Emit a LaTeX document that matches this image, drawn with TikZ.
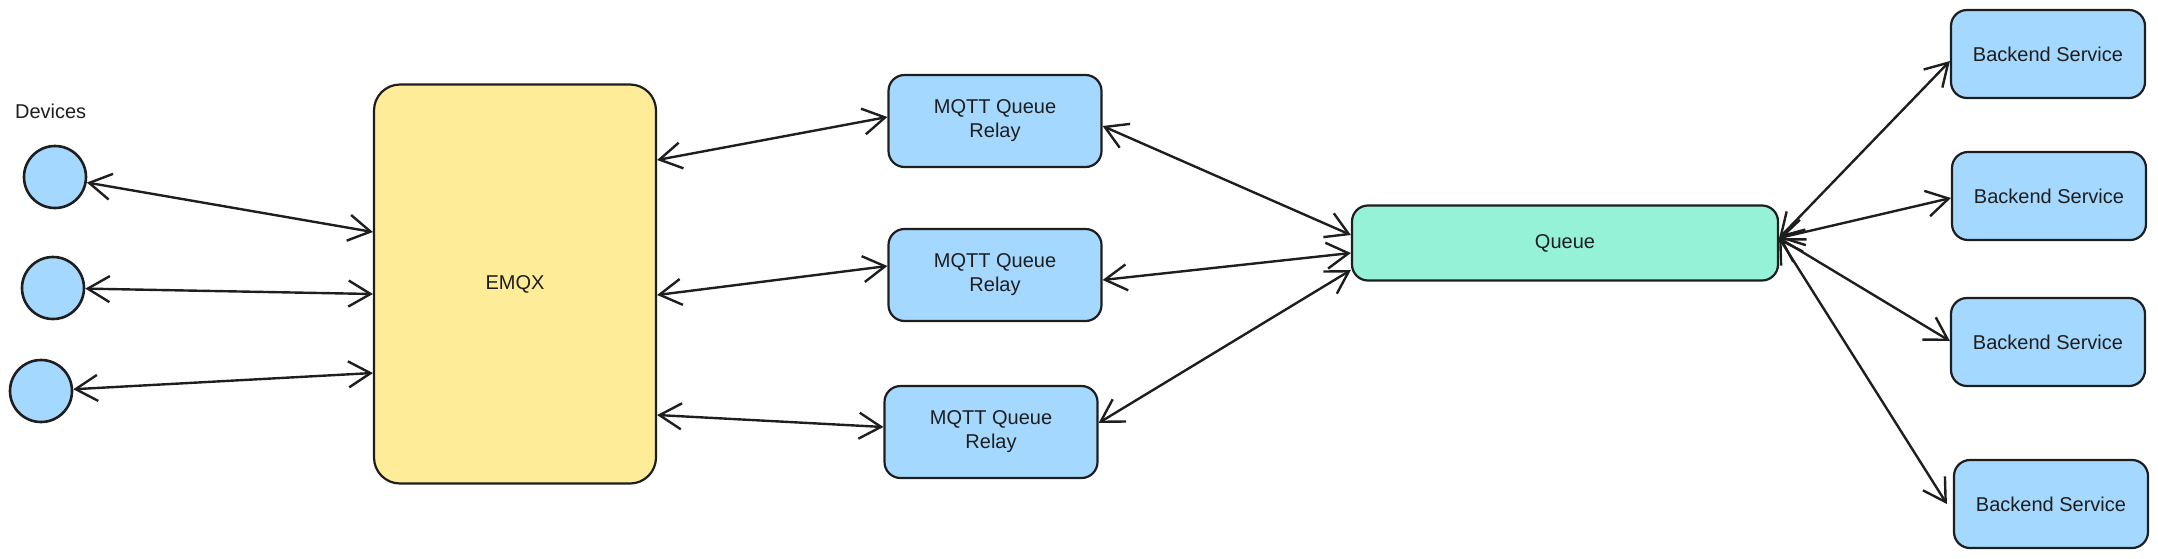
\documentclass[tikz,border=0pt]{standalone}
\usepackage{fontspec}
\setmainfont{Liberation Sans}
\usetikzlibrary{arrows.meta}
\usetikzlibrary{calc}
\definecolor{ink}{HTML}{1E1E1E}
\definecolor{relayblue}{HTML}{A5D8FF}
\definecolor{brokeryellow}{HTML}{FFEC99}
\definecolor{queuegreen}{HTML}{96F2D7}

\begin{document}
\begin{tikzpicture}[x=0.5pt, y=-0.5pt,
          every node/.style={text=ink, font=\fontsize{10}{12}\selectfont},
          box/.style={draw=ink, line width=1.1pt, rounded corners=8pt, inner sep=0pt, align=center},
          relay/.style={box, fill=relayblue, minimum width=106.5pt, minimum height=46pt},
          backend/.style={box, fill=relayblue, minimum width=97pt, minimum height=44pt},
          device/.style={circle, draw=ink, line width=1.3pt, fill=relayblue, minimum size=31pt, inner sep=0pt},
          link/.style={draw=ink, line width=1.2pt, {Straight Barb[length=11pt,width=13pt]}-{Straight Barb[length=11pt,width=13pt]}}]
          \useasboundingbox (0,0) rectangle (2158,558);

          \node[anchor=west] (devlabel) at (8,111) {Devices};
          \node[device] (dev1) at (55,177) {};
          \node[device] (dev2) at (53,288) {};
          \node[device] (dev3) at (41,391) {};

          \node[box, fill=brokeryellow, rounded corners=13pt, minimum width=141pt, minimum height=199.5pt] (emqx) at (515,284) {EMQX};

          \node[relay] (relay1) at (995,121) {MQTT Queue\\Relay};
          \node[relay] (relay2) at (995,275) {MQTT Queue\\Relay};
          \node[relay] (relay3) at (991,432) {MQTT Queue\\Relay};

          \node[box, fill=queuegreen, minimum width=213pt, minimum height=37.5pt] (queue) at (1565,243) {Queue};

          \node[backend] (back1) at (2048,54) {Backend Service};
          \node[backend] (back2) at (2049,196) {Backend Service};
          \node[backend] (back3) at (2048,342) {Backend Service};
          \node[backend] (back4) at (2051,504) {Backend Service};

          \draw[link] (dev1) -- ($(emqx.west)+(0,-52)$);
          \draw[link] (dev2) -- ($(emqx.west)+(0,10)$);
          \draw[link] (dev3) -- ($(emqx.west)+(0,89)$);

          \draw[link] ($(emqx.east)+(0,-124)$) -- ($(relay1.west)+(0,-4)$);
          \draw[link] ($(emqx.east)+(0,11)$) -- ($(relay2.west)+(0,-9)$);
          \draw[link] ($(emqx.east)+(0,131)$) -- ($(relay3.west)+(0,-5)$);

          \draw[link] ($(relay1.east)+(0,5)$) -- ($(queue.west)+(0,-8)$);
          \draw[link] ($(relay2.east)+(0,5)$) -- ($(queue.west)+(0,10)$);
          \draw[link] ($(relay3.east)+(0,-9)$) -- ($(queue.west)+(0,27)$);

          \draw[link] ($(queue.east)+(0,-5)$) -- ($(back1.west)+(0,7)$);
          \draw[link] ($(queue.east)+(0,-5)$) -- ($(back2.west)+(0,2)$);
          \draw[link] ($(queue.east)+(0,-5)$) -- ($(back3.west)+(0,-1)$);
          \draw[link] ($(queue.east)+(0,-5)$) -- ($(back4.west)+(-6,0)$);
\end{tikzpicture}
\end{document}
